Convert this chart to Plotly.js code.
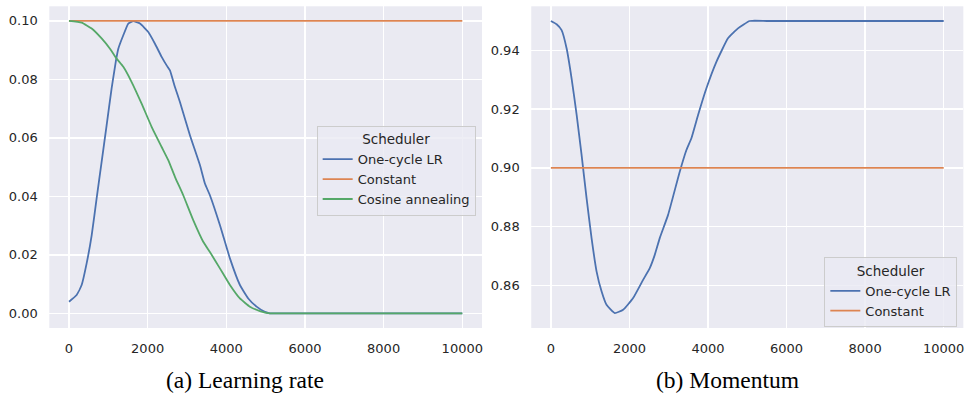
<!DOCTYPE html>
<html>
<head>
<meta charset="utf-8">
<script src="https://cdn.plot.ly/plotly-3.0.1.min.js"></script>
<style>html,body{margin:0;padding:0;background:#fff;}#chart{width:967px;height:394px;}</style>
</head>
<body>
<div id="chart"></div>
<script>
// ---- Data ----
const lrSteps = [0,195,322,449,577,703,830,957,1084,1195,1254,1381,1508,1635,1805,2016,2186,2356,2483,2567,2694,2821,3075,3329,3456,3583,3837,4092,4346,4558,4770,4981,5108,5500,6500,8000,10000];
const lrOneCycle = [0.0040,0.0063,0.0097,0.0171,0.0267,0.0393,0.0518,0.0643,0.0769,0.0865,0.0905,0.0951,0.0991,0.0999,0.0991,0.0962,0.0922,0.0877,0.0848,0.0831,0.0774,0.0723,0.0609,0.0507,0.0444,0.0404,0.0302,0.0188,0.0097,0.0051,0.0023,0.0005,0.0,0.0,0.0,0.0,0.0];
const constSteps = [0,10000];
const lrConstant = [0.1,0.1];
const cosSteps = [0,322,577,830,1042,1211,1381,1593,1847,2101,2356,2524,2694,2905,3159,3413,3583,3837,4092,4346,4600,4854,5108,5500,6500,8000,10000];
const lrCosine = [0.1,0.0994,0.0974,0.094,0.0905,0.0871,0.0843,0.0791,0.0717,0.0638,0.0569,0.0524,0.0467,0.0404,0.0319,0.0245,0.0210,0.0154,0.0097,0.0051,0.0023,0.0008,0.0,0.0,0.0,0.0,0.0];
const momSteps = [0,145,272,399,526,656,781,908,1035,1162,1289,1416,1627,1839,2093,2347,2517,2644,2771,2983,3280,3450,3577,3747,3959,4213,4508,4762,5060,5500,6500,8000,10000];
const momOneCycle = [0.95,0.9489,0.9469,0.9407,0.9305,0.918,0.9044,0.8897,0.8761,0.8648,0.858,0.8534,0.8506,0.8517,0.8557,0.8619,0.8659,0.8704,0.8761,0.884,0.8987,0.9061,0.9101,0.918,0.9271,0.9361,0.9441,0.9475,0.95,0.95,0.95,0.95,0.95];
const momConstant = [0.9,0.9];
const seriesNames = ["One-cycle LR","Constant","Cosine annealing"];
const captions = ["(a) Learning rate","(b) Momentum"];
const legendTitle = "Scheduler";

const colors = ["#4C72B0","#DD8452","#55A868"];
const lw = 1.8;
const tickFont = {family:"DejaVu Sans", size:13, color:"#262626"};
const curve = {shape:"spline", smoothing:0.4};

function ln(color){ return Object.assign({color:color, width:lw}, curve); }

const traces = [
  {x:lrSteps, y:lrOneCycle, name:seriesNames[0], mode:"lines", line:ln(colors[0]), xaxis:"x", yaxis:"y", legend:"legend"},
  {x:constSteps, y:lrConstant, name:seriesNames[1], mode:"lines", line:{color:colors[1], width:lw}, xaxis:"x", yaxis:"y", legend:"legend"},
  {x:cosSteps, y:lrCosine, name:seriesNames[2], mode:"lines", line:ln(colors[2]), xaxis:"x", yaxis:"y", legend:"legend"},
  {x:momSteps, y:momOneCycle, name:seriesNames[0], mode:"lines", line:ln(colors[0]), xaxis:"x2", yaxis:"y2", legend:"legend2"},
  {x:constSteps, y:momConstant, name:seriesNames[1], mode:"lines", line:{color:colors[1], width:lw}, xaxis:"x2", yaxis:"y2", legend:"legend2"}
];

function xa(domain, anchor){
  return {domain:domain, anchor:anchor, range:[-500,10500], dtick:2000, tick0:0, tickformat:"d",
    showgrid:true, gridcolor:"#ffffff", gridwidth:1.3, zeroline:false, showline:false,
    ticks:"outside", ticklen:8, tickcolor:"rgba(0,0,0,0)", tickfont:tickFont, fixedrange:true};
}
function ya(domain, anchor, range){
  return {domain:domain, anchor:anchor, range:range, dtick:0.02, tick0:0, tickformat:".2f",
    showgrid:true, gridcolor:"#ffffff", gridwidth:1.3, zeroline:false, showline:false,
    ticks:"outside", ticklen:8, tickcolor:"rgba(0,0,0,0)", tickfont:tickFont, fixedrange:true};
}
const yDom = [0.1675, 0.984];
const legendCommon = {
  bgcolor:"rgba(234,234,242,0.8)", bordercolor:"#cccccc", borderwidth:1,
  font:{family:"DejaVu Sans", size:13, color:"#262626"},
  title:{text:legendTitle, side:"top center", font:{family:"DejaVu Sans", size:13.5, color:"#262626"}},
  xanchor:"right", yanchor:"top", tracegroupgap:0
};

const layout = {
  width:967, height:394,
  margin:{l:0, r:0, t:0, b:0, pad:0},
  paper_bgcolor:"#ffffff", plot_bgcolor:"#EAEAF2",
  showlegend:true,
  xaxis: xa([0.051, 0.4984], "y"),
  yaxis: ya(yDom, "x", [-0.005, 0.105]),
  xaxis2: xa([0.5494, 0.9962], "y2"),
  yaxis2: ya(yDom, "x2", [0.8455, 0.955]),
  legend: Object.assign({}, legendCommon, {x:0.4919, y:0.681}),
  legend2: Object.assign({}, legendCommon, {x:0.99, y:0.347}),
  annotations: [
    {text:captions[0], xref:"paper", yref:"paper", x:0.2534, y:0.0355, xanchor:"center", yanchor:"middle", showarrow:false, font:{family:"Liberation Serif", size:23.5, color:"#000000"}},
    {text:captions[1], xref:"paper", yref:"paper", x:0.752, y:0.0355, xanchor:"center", yanchor:"middle", showarrow:false, font:{family:"Liberation Serif", size:23.5, color:"#000000"}}
  ]
};

Plotly.newPlot("chart", traces, layout, {displayModeBar:false, staticPlot:true});
</script>
</body>
</html>
